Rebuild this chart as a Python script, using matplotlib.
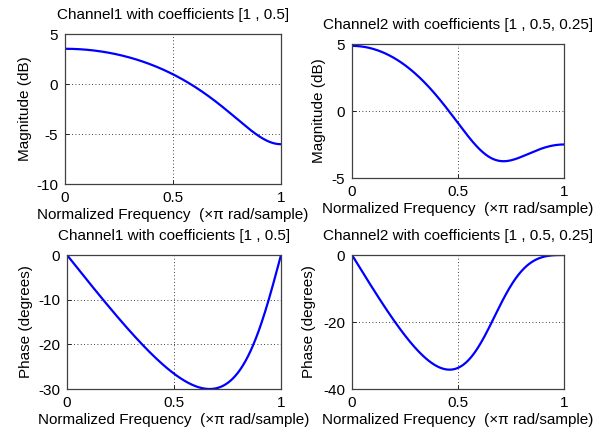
import numpy as np
import matplotlib
matplotlib.use("Agg")
import matplotlib.pyplot as plt

plt.rcParams['font.family'] = ['Liberation Sans', 'DejaVu Sans']
plt.rcParams['font.size'] = 11

# Filter coefficients (from the titles)
coef_ch1 = [1, 0.5]
coef_ch2 = [1, 0.5, 0.25]
titles = ["Channel1 with coefficients [1 , 0.5]",
          "Channel2 with coefficients [1 , 0.5, 0.25]"]
xlabel = "Normalized Frequency  (\u00d7\u03c0 rad/sample)"
xticks = [0, 0.5, 1]
mag_ylims = [(-10, 5), (-5, 5)]
mag_yticks = [[-10, -5, 0, 5], [-5, 0, 5]]
ph_ylims = [(-30, 0), (-40, 0)]
ph_yticks = [[-30, -20, -10, 0], [-40, -20, 0]]

n_points = 512
wn = np.arange(n_points) / n_points  # normalized freq (x pi)


def response(b):
    z = np.exp(-1j * np.pi * wn)
    h = np.zeros_like(z)
    for k, c in enumerate(b):
        h = h + c * z ** k
    return h


W, H = 606, 436
fig = plt.figure(figsize=(W / 100, H / 100), dpi=100)

# axes boxes in pixels: left, top, right, bottom ; ylabel right-edge x pixel
boxes = {
    (0, 0): ((65, 34, 281, 184), 32),
    (0, 1): ((352, 44, 564, 178), 326),
    (1, 0): ((67, 255, 281, 389), 33),
    (1, 1): ((352, 255, 564, 389), 316),
}


def make_ax(box):
    l, t, r, b = box
    return fig.add_axes([l / W, 1 - b / H, (r - l) / W, (b - t) / H])


def style(ax, box, ylab_x, ylim, yticks, ylabel, title):
    ax.set_xlim(0, 1)
    ax.set_ylim(*ylim)
    ax.set_xticks(xticks)
    ax.set_xticklabels(["0", "0.5", "1"])
    ax.set_yticks(yticks)
    ax.set_yticklabels([str(v) for v in yticks])
    ax.grid(True, linestyle=(0, (1, 3)), color='black', linewidth=0.6)
    ax.tick_params(direction='in', length=3, width=0.6, colors='black',
                   labelsize=11)
    ax.tick_params(axis='x', pad=5)
    ax.tick_params(axis='y', pad=5)
    for s in ax.spines.values():
        s.set_color('#404040')
        s.set_linewidth(0.9)
    ax.set_xlabel(xlabel, fontsize=11, labelpad=2)
    ax.set_ylabel(ylabel, fontsize=11)
    l, t, r, b = box
    ax.yaxis.set_label_coords((ylab_x - l) / (r - l), 0.5)
    ax.set_title(title, fontsize=11, pad=11)


coefs = [coef_ch1, coef_ch2]
for col in range(2):
    h = response(coefs[col])
    mag = 20 * np.log10(np.abs(h))
    ph = np.unwrap(np.angle(h)) * 180 / np.pi

    box, yx = boxes[(0, col)]
    ax = make_ax(box)
    ax.plot(wn, mag, color='#0000ff', linewidth=1.6)
    style(ax, box, yx, mag_ylims[col], mag_yticks[col], "Magnitude (dB)", titles[col])

    box, yx = boxes[(1, col)]
    ax = make_ax(box)
    ax.plot(wn, ph, color='#0000ff', linewidth=1.6)
    style(ax, box, yx, ph_ylims[col], ph_yticks[col], "Phase (degrees)", titles[col])

fig.savefig("out.png", dpi=100, facecolor='white')
